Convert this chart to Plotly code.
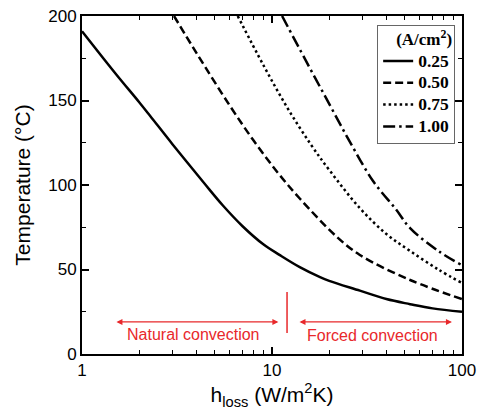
import math
import plotly.graph_objects as go

# Heat-loss coefficient (W/m^2K) and resulting temperature (°C) per current density
h_025 = [1, 1.5, 2, 2.28, 3, 4.4, 5.5, 7, 9, 11, 14, 17.9, 20, 29, 40, 53.3, 70, 100]
t_025 = [191, 166, 149, 141, 124, 101, 88, 75.6, 64.9, 58.5, 51.4, 45.5, 43.3, 37.5, 32.5, 29.5, 27, 25]

h_050 = [3.05, 4, 6.0, 8, 10.6, 14, 21.9, 29, 53.3, 100]
t_050 = [200, 178.2, 146.9, 126.3, 108, 92, 69.4, 58.6, 43.8, 32.5]

h_075 = [6.6, 9, 12, 16, 20.2, 29, 40, 53.3, 75, 100]
t_075 = [200, 171, 146, 124, 108.3, 86.3, 71, 61, 50, 42]

h_100 = [11.3, 15, 20, 26.1, 34.1, 45, 53.3, 75, 100]
t_100 = [200, 174, 148, 124.2, 102.2, 85.5, 74.5, 61, 52.5]

series_names = ["0.25", "0.50", "0.75", "1.00"]
series_h = [h_025, h_050, h_075, h_100]
series_t = [t_025, t_050, t_075, t_100]
dash_styles = ["solid", "8px,4px", "2.5px,3px", "12px,4px,2.5px,4px"]

# Convection regime annotation (boundary near h = 12 W/m^2K)
boundary_h = 12
boundary_t = [12.4, 36.7]
arrow_t = 19
natural_span = [1.49, 10.8]
forced_span = [13.7, 88.5]
natural_label = ("Natural convection", 3.84, 11.8)
forced_label = ("Forced convection", 34, 10.7)

RED = "#e8282b"
SANS = "Liberation Sans, Arial, sans-serif"
SERIF = "Liberation Serif, Times New Roman, serif"

fig = go.Figure()

for name, hs, ts, dash in zip(series_names, series_h, series_t, dash_styles):
    fig.add_trace(go.Scatter(
        x=hs, y=ts, mode="lines",
        name=f"<span style='font-size:17.5px'>{name}</span>",
        line=dict(color="black", width=2.5, dash=dash, shape="spline", smoothing=1.0),
    ))

# Regime boundary marker
fig.add_trace(go.Scatter(
    x=[boundary_h, boundary_h], y=boundary_t, mode="lines",
    line=dict(color=RED, width=1.5), showlegend=False, hoverinfo="skip",
))

annotations = []
for span in (natural_span, forced_span):
    annotations.append(dict(
        x=math.log10(span[1]), y=arrow_t, ax=math.log10(span[0]), ay=arrow_t,
        xref="x", yref="y", axref="x", ayref="y", text="",
        showarrow=True, arrowhead=2, arrowside="end+start",
        arrowsize=1, arrowwidth=1.2, arrowcolor=RED,
    ))
for text, hx, ty in (natural_label, forced_label):
    annotations.append(dict(
        x=math.log10(hx), y=ty, xref="x", yref="y", text=text,
        showarrow=False, font=dict(family=SANS, size=16, color=RED),
    ))

axis_common = dict(
    showline=True, linecolor="black", linewidth=2, mirror="ticks",
    ticks="inside", ticklen=7, tickwidth=1.5, tickcolor="black",
    showgrid=False, zeroline=False, automargin=False, layer="above traces",
    tickfont=dict(family=SANS, size=17, color="black"),
)

fig.update_layout(
    template="simple_white",
    width=478, height=412,
    margin=dict(l=82, r=16, t=16, b=58),
    paper_bgcolor="white", plot_bgcolor="white",
    showlegend=True,
    legend=dict(
        x=0.982, y=0.973, xanchor="right", yanchor="top",
        bgcolor="white", bordercolor="#666666", borderwidth=1,
        font=dict(family=SERIF, size=14.5, color="black", weight="bold"),
        title=dict(text="<span style='font-size:17px'>(A/cm<sup>2</sup>)</span>", side="top right",
                   font=dict(family=SERIF, size=14.5, color="black", weight="bold")),
        tracegroupgap=0,
    ),
    xaxis=dict(
        type="log", range=[0, 2], dtick=1,
        minor=dict(ticks="inside", ticklen=4, tickwidth=1.2, tickcolor="black", showgrid=False),
        title=dict(text="h<sub>loss</sub> (W/m<sup>2</sup>K)", font=dict(family=SANS, size=21, color="black"), standoff=2),
        **axis_common,
    ),
    yaxis=dict(
        range=[0, 200], dtick=50,
        minor=dict(dtick=25, ticks="inside", ticklen=4, tickwidth=1.2, tickcolor="black", showgrid=False),
        title=dict(text="Temperature (°C)", font=dict(family=SANS, size=21, color="black"), standoff=12),
        **axis_common,
    ),
    annotations=annotations,
)

fig.write_html("out.html")
